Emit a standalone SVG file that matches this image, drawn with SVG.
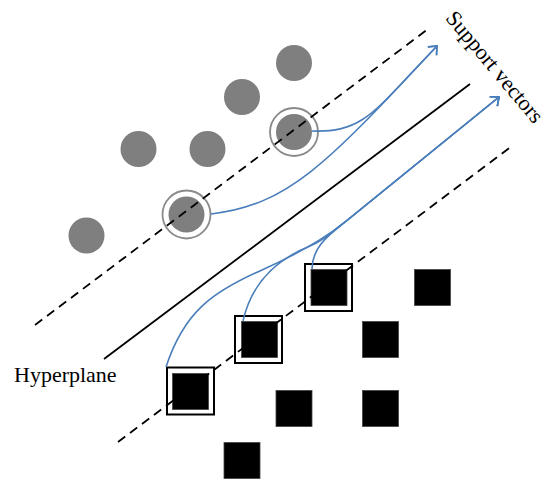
<svg xmlns="http://www.w3.org/2000/svg" width="554" height="491" viewBox="0 0 554 491">
  <style>
    .pt { fill: #7f7f7f; }
    .ring { fill: none; stroke: #8a8a8a; stroke-width: 1.8; }
    .sq { fill: #000; stroke: #444; stroke-width: 0.8; }
    .frame { fill: none; stroke: #000; stroke-width: 2; }
    .margin { stroke: #000; stroke-width: 1.8; stroke-dasharray: 9 6; fill: none; }
    .hyper { stroke: #000; stroke-width: 1.8; fill: none; }
    .conn { fill: none; stroke: #4a7ebb; stroke-width: 1.6; }
    .lbl { font-family: "Liberation Serif", "Times New Roman", serif; font-size: 22px; fill: #000; }
  </style>
  <defs>
    <marker id="arr" markerUnits="userSpaceOnUse" markerWidth="20" markerHeight="20" refX="0" refY="0" viewBox="-10 -10 20 20" orient="auto" overflow="visible">
      <path d="M -7,-6 L 0,0 L -7,6" fill="none" stroke="#4a7ebb" stroke-width="1.6"/>
    </marker>
  </defs>

  <rect width="554" height="491" fill="#fff"/>

  <!-- circle class -->
  <g id="c1"><circle class="pt" cx="294" cy="63" r="18"/></g>
  <g id="c2"><circle class="pt" cx="242" cy="97" r="18"/></g>
  <g id="c3"><circle class="pt" cx="138.5" cy="149" r="18"/></g>
  <g id="c4"><circle class="pt" cx="207.5" cy="149" r="18"/></g>
  <g id="c5"><circle class="pt" cx="294" cy="132" r="18"/><circle class="ring" cx="294" cy="132" r="24"/></g>
  <g id="c6"><circle class="pt" cx="186.5" cy="214.5" r="18"/><circle class="ring" cx="186.5" cy="214.5" r="24"/></g>
  <g id="c7"><circle class="pt" cx="86.5" cy="235.5" r="18"/></g>

  <!-- square class -->
  <g id="s1"><rect class="sq" x="172.5" y="373.5" width="36" height="36"/><rect class="frame" x="167" y="367.5" width="47" height="47"/></g>
  <g id="s2"><rect class="sq" x="241.5" y="321.5" width="36" height="36"/><rect class="frame" x="235" y="316" width="47" height="47"/></g>
  <g id="s3"><rect class="sq" x="311" y="269.5" width="36" height="36"/><rect class="frame" x="305" y="264" width="47" height="47"/></g>
  <g id="s4"><rect class="sq" x="414.5" y="269.5" width="36" height="36"/></g>
  <g id="s5"><rect class="sq" x="362.5" y="321.5" width="36" height="36"/></g>
  <g id="s6"><rect class="sq" x="362.5" y="390.5" width="36" height="36"/></g>
  <g id="s7"><rect class="sq" x="276" y="390.5" width="36" height="36"/></g>
  <g id="s8"><rect class="sq" x="224" y="442.5" width="36" height="36"/></g>

  <!-- hyperplane and margins -->
  <g id="lines">
    <line class="margin" x1="35" y1="325" x2="428" y2="29"/>
    <line class="hyper" x1="104" y1="359" x2="470" y2="84"/>
    <line class="margin" x1="118" y1="442" x2="512" y2="146"/>
  </g>

  <!-- connectors -->
  <g id="connectors">
    <path class="conn" d="M 312,131 C 365,133 375,110 437,46" marker-end="url(#arr)"/>
    <path class="conn" d="M 211,214 C 290,205 330,160 437,46" marker-end="url(#arr)"/>
    <path class="conn" d="M 166,367 C 184,312 212,292 262,270 C 300,253 325,238 345,222 L 499,97" marker-end="url(#arr)"/>
    <path class="conn" d="M 243,321 C 250,290 270,262 310,246 C 325,240 335,230 345,222 L 499,97" marker-end="url(#arr)"/>
    <path class="conn" d="M 312,269 C 312,250 325,237 345,222 L 499,97" marker-end="url(#arr)"/>
  </g>

  <g id="labels">
    <text class="lbl" x="14" y="382">Hyperplane</text>
    <text class="lbl" x="444.7" y="18.4" transform="rotate(50 444.7 18.4)">Support vectors</text>
  </g>
</svg>
